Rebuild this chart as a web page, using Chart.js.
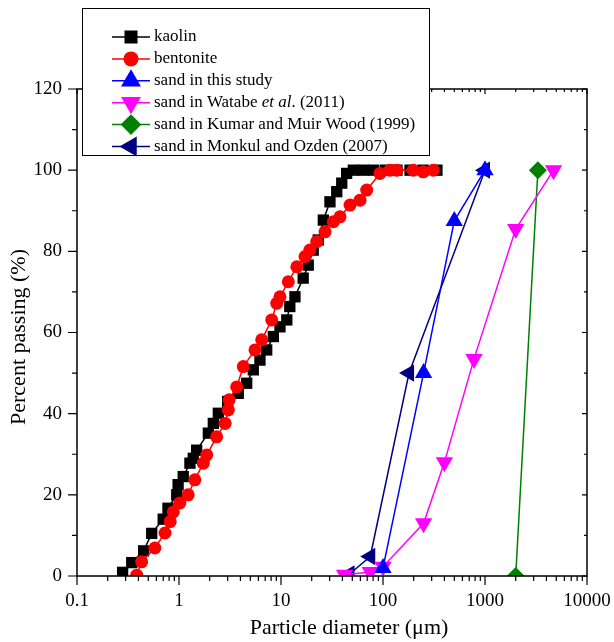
<!DOCTYPE html>
<html><head><meta charset="utf-8">
<script src="https://cdn.jsdelivr.net/npm/chart.js@4/dist/chart.umd.min.js"></script>
<style>html,body{margin:0;padding:0;background:#fff;}canvas{display:block}</style>
</head><body>
<canvas id="c" width="614" height="642"></canvas>
<script>
// ---- data (particle diameter in µm, percent passing) ----
const kaolinD = [0.28,0.344,0.45,0.54,0.70,0.78,0.95,0.98,1.10,1.28,1.38,1.49,1.94,2.17,2.43,3.0,3.81,4.61,5.35,6.22,7.24,8.41,9.77,11.4,12.2,13.7,16.5,18.5,20.7,23.2,26.0,30.2,35.2,39.4,44.0,51.2,64.1,80.4,105,137,184,247,338];
const kaolinP = [0.9,3.3,6.2,10.5,14.0,16.7,20.0,22.5,24.5,27.8,29.0,31.0,35.2,37.6,40.1,43.0,45.0,47.5,50.8,53.2,55.7,59.0,61.4,63.1,66.4,68.8,73.4,76.6,80.3,82.8,87.7,92.2,94.7,96.8,99.2,100,100,100,100,100,100,100,100];
const bentD = [0.385,0.43,0.58,0.73,0.82,0.88,1.02,1.23,1.43,1.73,1.87,2.34,2.83,3.04,3.1,3.68,4.27,5.56,6.47,8.11,9.08,9.77,11.8,14.3,17.2,19.2,22.4,27.0,32.6,37.9,47.5,59.5,69.2,93.5,117,136,198,248,311];
const bentP = [0.2,3.5,6.9,10.6,13.4,15.8,18.0,20.0,23.7,27.8,29.8,34.3,37.6,40.9,43.4,46.6,51.6,55.7,58.2,63.1,67.2,68.8,72.5,76.2,78.7,80.3,82.4,84.8,87.3,88.5,91.4,92.6,95.1,99.2,100,100,100,99.6,100];
const sandD = [100,250,500,1000];
const sandP = [2,50,87.5,100];
const watabeD = [42,75,100,250,400,780,2000,4700];
const watabeP = [0.3,1,2.3,13,28,53.5,85.5,100];
const kumarD = [2000,3300];
const kumarP = [0,100];
const monkulD = [47,75,180,1000];
const monkulP = [0.5,4.8,50,100];
const xTickValues = [0.1,1,10,100,1000,10000];
const yMin = 0, yMax = 120, yStep = 20;

const SERIF = "'Liberation Serif','Times New Roman',serif";
const pts = (d,p) => d.map((v,i)=>({x:v,y:p[i]}));

const series = [
  {label:'kaolin', d:kaolinD, p:kaolinP, color:'#000000', style:'rect', rot:0, r:8, order:2},
  {label:'bentonite', d:bentD, p:bentP, color:'#ff0000', style:'circle', rot:0, r:6.5, order:1},
  {label:'sand in this study', d:sandD, p:sandP, color:'#0000ff', style:'triangle', rot:0, r:10, order:0},
  {label:'sand in Watabe et al. (2011)', d:watabeD, p:watabeP, color:'#ff00ff', style:'triangle', rot:180, r:10, order:0},
  {label:'sand in Kumar and Muir Wood (1999)', d:kumarD, p:kumarP, color:'#008000', style:'rectRot', rot:0, r:9, order:0},
  {label:'sand in Monkul and Ozden (2007)', d:monkulD, p:monkulP, color:'#000080', style:'triangle', rot:270, r:10, order:0},
];

const datasets = series.map(s => ({
  label: s.label, data: pts(s.d, s.p), borderColor: s.color, backgroundColor: s.color,
  borderWidth: 1.5, pointStyle: s.style, pointRotation: s.rot, pointRadius: s.r,
  pointBorderWidth: 0, pointBackgroundColor: s.color, pointBorderColor: s.color,
  tension: 0, order: s.order
}));

function drawMarker(ctx, style, rot, r, x, y, color) {
  ctx.save();
  ctx.translate(x, y);
  ctx.rotate(rot * Math.PI / 180);
  ctx.fillStyle = color;
  ctx.beginPath();
  if (style === 'rect') { const s = Math.SQRT1_2 * r; ctx.rect(-s, -s, 2*s, 2*s); }
  else if (style === 'circle') { ctx.arc(0, 0, r, 0, Math.PI*2); }
  else if (style === 'triangle') {
    for (let k=0;k<3;k++){ const a = k*2*Math.PI/3; const px = Math.sin(a)*r, py = -Math.cos(a)*r; k?ctx.lineTo(px,py):ctx.moveTo(px,py);} ctx.closePath();
  } else if (style === 'rectRot') { ctx.moveTo(0,-r); ctx.lineTo(r,0); ctx.lineTo(0,r); ctx.lineTo(-r,0); ctx.closePath(); }
  ctx.fill();
  ctx.restore();
}

const framePlugin = {
  id: 'frame',
  afterDraw(chart) {
    const ctx = chart.ctx, a = chart.chartArea;
    const xs = chart.scales.x, ys = chart.scales.y;
    ctx.save();
    ctx.strokeStyle = '#000';
    ctx.lineWidth = 1.5;
    ctx.strokeRect(a.left, a.top, a.right - a.left, a.bottom - a.top);
    ctx.lineWidth = 1.2;
    ctx.beginPath();
    // y ticks: left outward, right inward
    for (let v = yMin; v <= yMax; v += 10) {
      const y = ys.getPixelForValue(v);
      const major = v % 20 === 0;
      ctx.moveTo(a.left, y); ctx.lineTo(a.left - (major ? 9 : 5), y);
      ctx.moveTo(a.right, y); ctx.lineTo(a.right - (major ? 5 : 3), y);
    }
    // x ticks: bottom outward, top inward
    for (let e = -1; e <= 4; e++) {
      for (let m = 1; m <= 9; m++) {
        const v = m * Math.pow(10, e);
        if (v > 10000 * 1.0001) break;
        const x = xs.getPixelForValue(v);
        const major = m === 1;
        ctx.moveTo(x, a.bottom); ctx.lineTo(x, a.bottom + (major ? 9 : 5));
        ctx.moveTo(x, a.top); ctx.lineTo(x, a.top + (major ? 5 : 3));
      }
    }
    ctx.stroke();

    // axis titles
    ctx.fillStyle = '#000';
    ctx.font = '22px ' + SERIF;
    ctx.textAlign = 'center';
    ctx.textBaseline = 'middle';
    ctx.fillText('Particle diameter (\u03bcm)', 349, 628);
    ctx.save();
    ctx.translate(19, 337);
    ctx.rotate(-Math.PI/2);
    ctx.fillText('Percent passing (%)', 0, 0);
    ctx.restore();

    // legend box
    const bx = 82, by = 8, bw = 347, bh = 147;
    ctx.fillStyle = '#fff';
    ctx.fillRect(bx, by, bw, bh);
    ctx.strokeStyle = '#000';
    ctx.lineWidth = 1;
    ctx.strokeRect(bx + 0.5, by + 0.5, bw, bh);
    const rowY0 = 37, rowStep = 21.9;
    series.forEach((s, i) => {
      const y = rowY0 + i * rowStep;
      ctx.strokeStyle = s.color;
      ctx.lineWidth = 1.5;
      ctx.beginPath(); ctx.moveTo(112, y); ctx.lineTo(150, y); ctx.stroke();
      drawMarker(ctx, s.style, s.rot, s.r * 1.15, 131, y, s.color);
      ctx.fillStyle = '#000';
      ctx.textAlign = 'left';
      ctx.textBaseline = 'middle';
      let x = 154;
      const parts = s.label === 'sand in Watabe et al. (2011)'
        ? [['sand in Watabe ', ''], ['et al', 'italic '], ['. (2011)', '']]
        : [[s.label, '']];
      parts.forEach(([t, st]) => {
        ctx.font = st + '17px ' + SERIF;
        ctx.fillText(t, x, y);
        x += ctx.measureText(t).width;
      });
    });
    ctx.restore();
  }
};

new Chart(document.getElementById('c'), {
  type: 'line',
  data: { datasets },
  options: {
    responsive: false,
    animation: false,
    devicePixelRatio: 1,
    layout: { padding: { top: 89, right: 27, left: 0, bottom: 0 } },
    plugins: { legend: { display: false }, tooltip: { enabled: false } },
    scales: {
      x: {
        type: 'logarithmic', min: 0.1, max: 10000,
        afterFit: s => { s.height = 66; },
        grid: { display: true, drawOnChartArea: false, drawTicks: true, tickLength: 11, color: 'rgba(0,0,0,0)' },
        border: { display: false },
        afterBuildTicks: s => { s.ticks = xTickValues.map(v => ({ value: v })); },
        ticks: {
          autoSkip: false, maxRotation: 0, padding: 3, color: '#000',
          font: { family: SERIF, size: 19 },
          callback: v => String(v)
        }
      },
      y: {
        min: yMin, max: yMax,
        afterFit: s => { s.width = 77; },
        grid: { display: true, drawOnChartArea: false, drawTicks: true, tickLength: 8, color: 'rgba(0,0,0,0)' },
        border: { display: false },
        ticks: { stepSize: yStep, padding: 7, color: '#000', font: { family: SERIF, size: 19 } }
      }
    }
  },
  plugins: [framePlugin]
});
</script>
</body></html>
